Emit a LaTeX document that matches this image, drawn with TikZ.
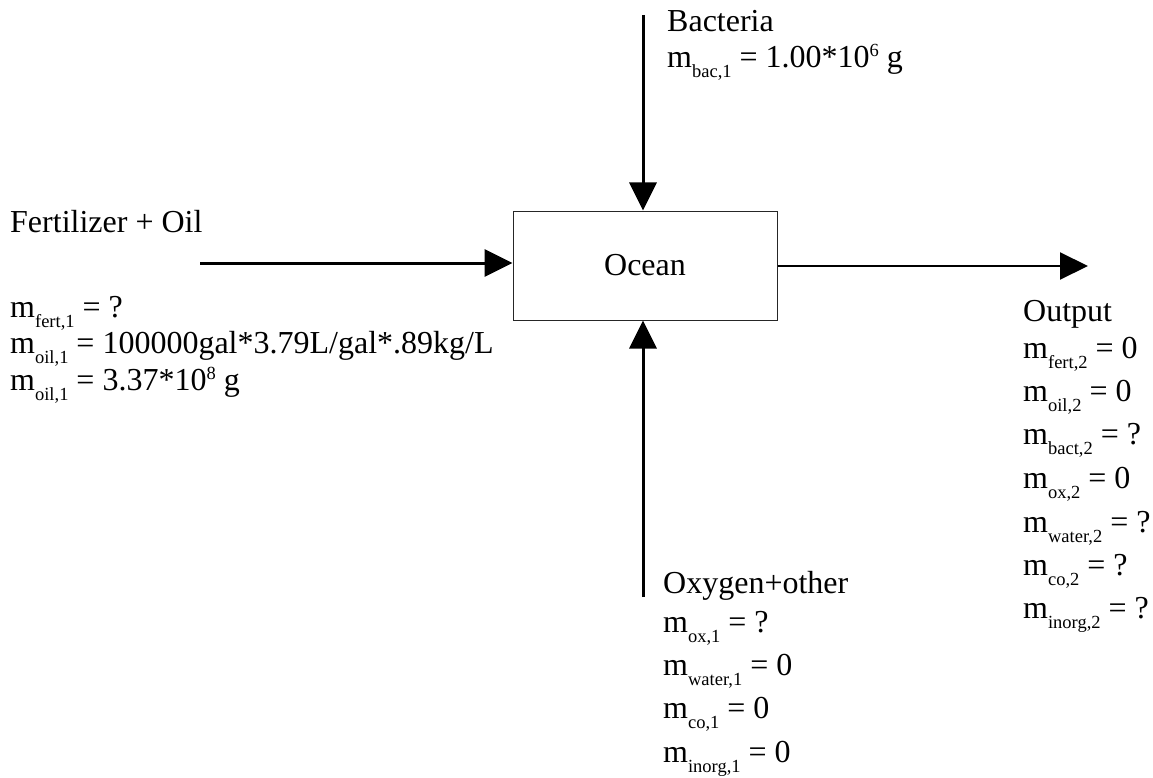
\documentclass[tikz,border=0pt]{standalone}
\usepackage{fontspec}
\setmainfont{Liberation Serif}
\usetikzlibrary{arrows.meta}
\newcommand{\ms}[1]{m\raisebox{-10pt}{\fontsize{18.5}{18.5}\selectfont #1}}
\newcommand{\sps}[1]{\raisebox{11pt}{\fontsize{18.5}{18.5}\selectfont #1}}
\tikzset{
  lbl/.style={anchor=base west, inner sep=0pt, font=\fontsize{32}{36}\selectfont},
  flow/.style={line width=3pt, -{Triangle[length=28pt,width=27pt]}},
  flowthin/.style={line width=2pt, -{Triangle[length=28pt,width=27pt]}},
  proc/.style={draw=black!85, line width=1pt, minimum width=264pt, minimum height=109pt, inner sep=0pt, font=\fontsize{32}{36}\selectfont}
}
\begin{document}
\begin{tikzpicture}[x=1pt,y=-1pt]
\useasboundingbox (0,0) rectangle (1153,778);
\node[proc] (ocean) at (645,265.5) {Ocean};
% inputs/outputs coordinates
\coordinate (bacS) at (643,15);
\coordinate (fertS) at (200,263);
\coordinate (oxS) at (643,597);
\coordinate (outE) at (1088,266);
\draw[flow] (bacS) -- (bacS |- ocean.north);
\draw[flow] (fertS) -- (fertS -| ocean.west);
\draw[flow] (oxS) -- (oxS |- ocean.south);
\draw[flowthin] (outE -| ocean.east) -- (outE);
% Bacteria
\node[lbl] (bac0) at (667,32) {Bacteria};
\node[lbl] (bac1) at (667,68) {\ms{bac,1} = 1.00*10\sps{6} g};
% Fertilizer + Oil
\node[lbl] (fo0) at (10,232) {Fertilizer + Oil};
\node[lbl] (fo1) at (10,317) {\ms{fert,1} = ?};
\node[lbl] (fo2) at (10,353) {\ms{oil,1} = 100000gal*3.79L/gal*.89kg/L};
\node[lbl] (fo3) at (10,390) {\ms{oil,1} = 3.37*10\sps{8} g};
% Oxygen
\node[lbl] (ox0) at (663,593) {Oxygen+other};
\node[lbl] (ox1) at (663,632) {\ms{ox,1} = ?};
\node[lbl] (ox2) at (663,675) {\ms{water,1} = 0};
\node[lbl] (ox3) at (663,718) {\ms{co,1} = 0};
\node[lbl] (ox4) at (663,762) {\ms{inorg,1} = 0};
% Output
\node[lbl] (o0) at (1023,321) {Output};
\node[lbl] (o1) at (1023,358) {\ms{fert,2} = 0};
\node[lbl] (o2) at (1023,401) {\ms{oil,2} = 0};
\node[lbl] (o3) at (1023,444) {\ms{bact,2} = ?};
\node[lbl] (o4) at (1023,488) {\ms{ox,2} = 0};
\node[lbl] (o5) at (1023,532) {\ms{water,2} = ?};
\node[lbl] (o6) at (1023,575) {\ms{co,2} = ?};
\node[lbl] (o7) at (1023,618) {\ms{inorg,2} = ?};
\end{tikzpicture}
\end{document}
